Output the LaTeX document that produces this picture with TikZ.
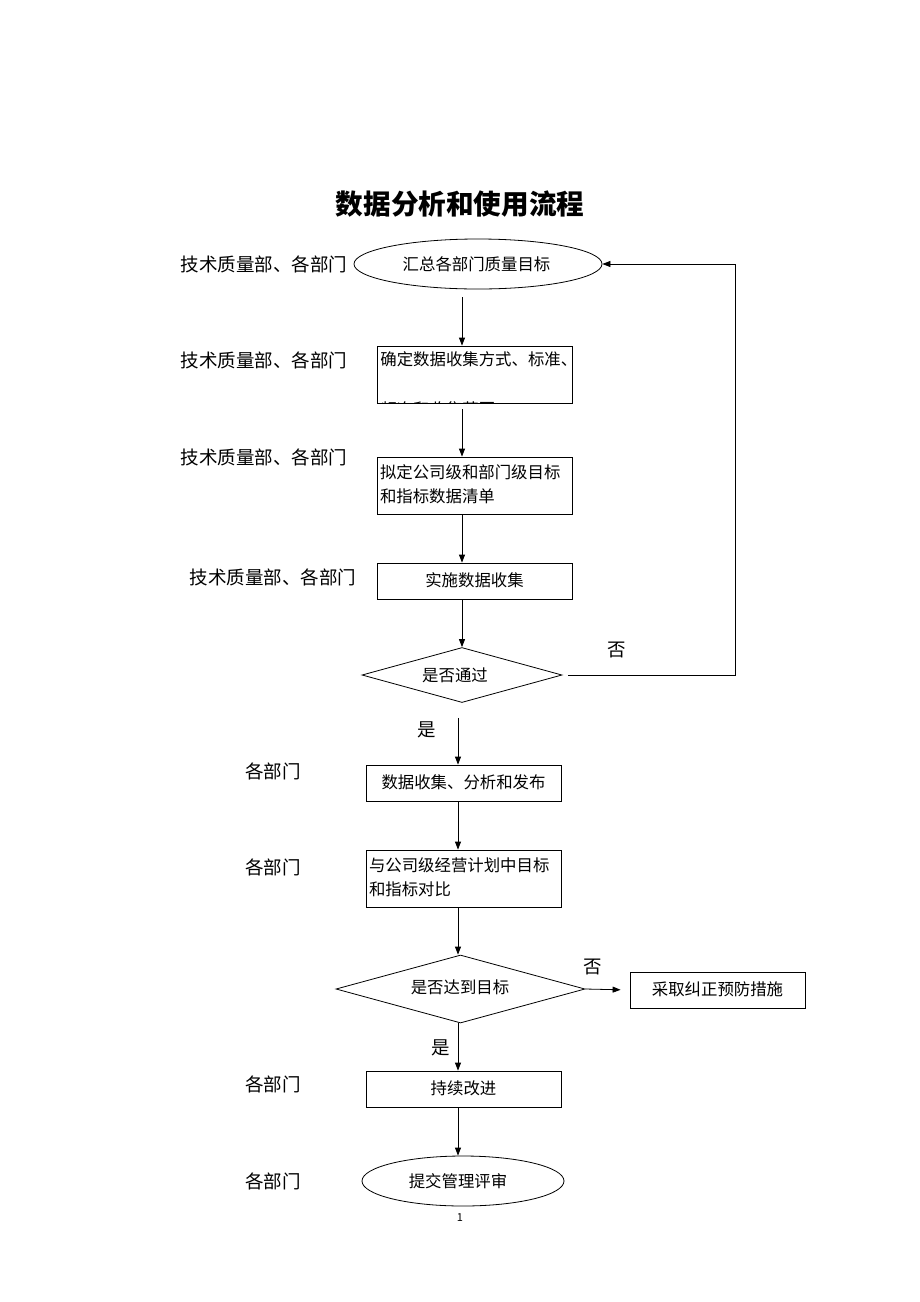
\documentclass[tikz,border=0pt]{standalone}
\usepackage{fontspec}
\setmainfont{Noto Sans CJK SC}
\usetikzlibrary{shapes.geometric,arrows.meta}
\begin{document}
\begin{tikzpicture}[x=1pt,y=-1pt,
  line width=0.8pt,
  boxtext/.style={font=\fontsize{16.4}{24}\selectfont},
  lbl/.style={font=\fontsize{18.5}{22}\selectfont},
  pbox/.style={draw,rectangle,minimum width=195pt,inner sep=0pt,boxtext},
  pell/.style={draw,ellipse,inner sep=0pt,boxtext},
  pdia/.style={draw,diamond,inner sep=0pt,boxtext},
  arr/.style={-{Triangle[length=8pt,width=6pt]}},
]
\useasboundingbox (0,0) rectangle (920,1302);

\node[font=\fontsize{27.6}{30}\bfseries\selectfont] (title) at (460,204) {数据分析和使用流程};

% left labels
\node[lbl] (l1) at (264,264) {技术质量部、各部门};
\node[lbl] (l2) at (264,360) {技术质量部、各部门};
\node[lbl] (l3) at (264,457) {技术质量部、各部门};
\node[lbl] (l4) at (273,577) {技术质量部、各部门};
\node[lbl] (l5) at (273,771) {各部门};
\node[lbl] (l6) at (273,867) {各部门};
\node[lbl] (l7) at (273,1084) {各部门};
\node[lbl] (l8) at (273,1181) {各部门};

% main flow
\node[pell,minimum width=248pt,minimum height=50pt] (e1) at (478,264) {\hspace*{-3pt}汇总各部门质量目标};
\node[pbox,minimum height=57pt] (b2) at (474.5,374.5) {};
\begin{scope}
  \clip (b2.south west) rectangle (b2.north east);
  \node[boxtext,anchor=north west,align=left,inner sep=0pt] (b2t) at (380,351) {确定数据收集方式、标准、\\[26.5pt]频次和收集范围};
\end{scope}
\node[pbox,minimum height=57pt,text width=189pt,align=left] (b3) at (474.5,485.5) {\raisebox{3pt}{\parbox[b]{189pt}{拟定公司级和部门级目标\\和指标数据清单}}};
\node[pbox,minimum height=36pt] (b4) at (474.5,581) {\raisebox{2pt}{实施数据收集}};
\node[pdia,minimum width=200pt,minimum height=55pt,aspect=3.6] (d1) at (462,675) {};
\node[boxtext] (d1t) at (455,675) {是否通过};
\node[pbox,minimum height=36pt] (b5) at (463.5,783) {\raisebox{2pt}{数据收集、分析和发布}};
\node[pbox,minimum height=57pt,text width=189pt,align=left] (b6) at (463.5,878.5) {\raisebox{3pt}{\parbox[b]{189pt}{与公司级经营计划中目标\\和指标对比}}};
\node[pdia,minimum width=249pt,minimum height=68pt,aspect=3.66] (d2) at (460.5,989) {};
\node[boxtext] (d2t) at (460,987) {是否达到目标};
\node[draw,rectangle,minimum width=175pt,minimum height=36pt,inner sep=0pt,boxtext] (b7) at (717.5,990) {\raisebox{3pt}{采取纠正预防措施}};
\node[pbox,minimum height=36pt] (b8) at (463.5,1089) {\raisebox{3pt}{持续改进}};
\node[pell,minimum width=202pt,minimum height=50pt] (e2) at (463,1181) {\hspace*{-10pt}提交管理评审};

% labels yes/no
\node[lbl] (no1) at (617,650) {否};
\node[lbl] (yes1) at (427,730) {是};
\node[lbl] (no2) at (593,967) {否};
\node[lbl] (yes2) at (441,1048) {是};
\node[font=\fontsize{11}{12}\selectfont] (pg) at (460,1218) {1};

% connectors
\coordinate (ax1) at (462,0);
\coordinate (ax2) at (458,0);
\draw[arr,shorten <=8pt] (ax1 |- e1.south) -- (ax1 |- b2.north);
\draw[arr,shorten <=6pt] (ax1 |- b2.south) -- (ax1 |- b3.north);
\draw[arr] (ax1 |- b3.south) -- (ax1 |- b4.north);
\draw[arr] (ax1 |- b4.south) -- (d1.north);
\coordinate (r1) at (735,675);
\coordinate (r2) at (735,264);
\draw[arr,shorten <=6pt] (d1.east) -- (r1) -- (r2) -- (e1.east);
\draw[arr,shorten <=15pt] (ax2 |- d1.south) -- (ax2 |- b5.north);
\draw[arr] (ax2 |- b5.south) -- (ax2 |- b6.north);
\draw[arr] (ax2 |- b6.south) -- (ax2 |- d2.north);
\draw[arr,shorten >=9pt] (d2.east) -- (b7.west);
\draw[arr] (ax2 |- d2.south) -- (ax2 |- b8.north);
\draw[arr] (ax2 |- b8.south) -- (ax2 |- e2.north);
\end{tikzpicture}
\end{document}
